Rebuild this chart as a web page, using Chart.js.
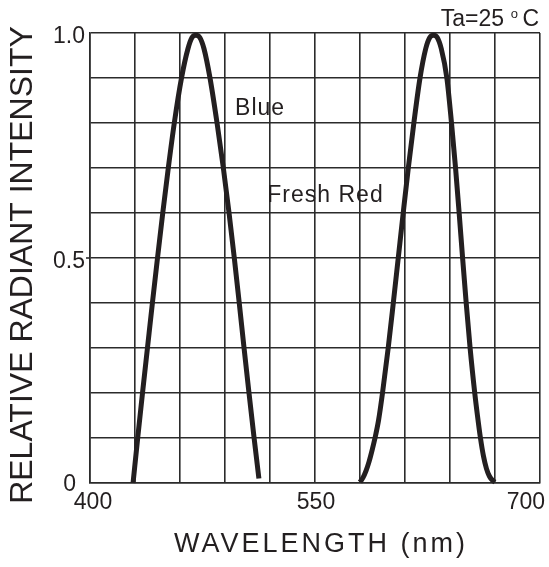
<!DOCTYPE html>
<html><head><meta charset="utf-8">
<script src="https://cdn.jsdelivr.net/npm/chart.js@4.4.1/dist/chart.umd.min.js"></script>
<style>html,body{margin:0;padding:0;background:#fff}#wrap{width:549px;height:567px;position:relative}</style>
</head><body><div id="wrap"><canvas id="c"></canvas></div>
<script>
// Blue emitter spectrum (wavelength nm, relative intensity)
const blueWavelength = [428.7, 431.8, 435.0, 438.3, 441.6, 445.0, 448.5, 452.2, 456.2, 461.0, 465.3, 468.0, 470.6, 473.2, 476.0, 480.0, 484.7, 488.9, 492.7, 496.2, 499.5, 502.7, 506.0, 509.4, 512.6];
const blueIntensity  = [0.0,   0.1,   0.2,   0.3,   0.4,   0.5,   0.6,   0.7,   0.8,   0.9,   0.965, 0.99,  0.995, 0.99,  0.965, 0.9,   0.8,   0.7,   0.6,   0.5,   0.4,   0.3,   0.2,   0.1,   0.01];
// Fresh Red emitter spectrum
const redWavelength = [580.0, 582.0, 584.0, 586.0, 588.0, 590.0, 592.4, 595.0, 598.8, 602.2, 605.5, 608.8, 612.2, 615.9, 620.0, 623.8, 626.5, 629.0, 631.5, 634.2, 637.9, 641.0, 643.7, 646.1, 648.4, 650.8, 653.4, 656.5, 658.3, 660.3, 662.3, 664.3, 666.3, 668.3, 670.0];
const redIntensity  = [0.002, 0.012, 0.027, 0.047, 0.072, 0.1,   0.14,  0.2,   0.3,   0.4,   0.5,   0.6,   0.7,   0.8,   0.9,   0.965, 0.99,  0.995, 0.99,  0.965, 0.9,   0.8,   0.7,   0.6,   0.5,   0.4,   0.3,   0.2,   0.15,  0.1,   0.06,  0.032, 0.015, 0.006, 0.002];
// Tick labels shown on the axes
const xTickLabels = ['400', '550', '700'];
const yTickLabels = ['0', '0.5', '1.0'];
const xTitle = 'WAVELENGTH (nm)';
const yTitle = 'RELATIVE RADIANT INTENSITY';
const seriesNames = ['Blue', 'Fresh Red'];
const conditionText = ['Ta=25', 'o', 'C'];

const INK = '#231f20';
const FONT = '"Liberation Sans", Arial, sans-serif';

function toPoints(xs, ys) { return xs.map((x, i) => ({ x: x, y: ys[i] })); }

const textPlugin = {
  id: 'texts',
  afterDraw(chart) {
    const ctx = chart.ctx;
    const xs = chart.scales.x, ys = chart.scales.y;
    const ca = chart.chartArea;
    ctx.save();
    ctx.fillStyle = INK;
    ctx.textBaseline = 'alphabetic';
    ctx.font = '23px ' + FONT;
    // y tick labels
    yTickLabels.forEach(t => {
      const v = parseFloat(t);
      const py = ys.getPixelForValue(v);
      ctx.textAlign = 'right';
      if (v === 0) ctx.fillText(t, ca.left - 14, py + 8);
      else ctx.fillText(t, ca.left - 5, py + 9.5);
    });
    // x tick labels
    xTickLabels.forEach((t, i) => {
      const v = parseFloat(t);
      const px = xs.getPixelForValue(v);
      const by = ca.bottom + 26;
      if (i === xTickLabels.length - 1) { ctx.textAlign = 'right'; ctx.fillText(t, px + 5, by); }
      else { ctx.textAlign = 'center'; ctx.fillText(t, px + (i === 0 ? 3 : 1), by); }
    });
    // series annotations
    ctx.textAlign = 'left';
    ctx.letterSpacing = '1px';
    ctx.fillText(seriesNames[0], xs.getPixelForValue(496.7), ys.getPixelForValue(0.818));
    ctx.fillText(seriesNames[1], xs.getPixelForValue(518.2), ys.getPixelForValue(0.625));
    ctx.letterSpacing = '0px';
    // condition text, top right
    ctx.textAlign = 'right';
    ctx.fillText(conditionText[2], ca.right - 1, 26);
    ctx.font = '13px ' + FONT;
    ctx.fillText(conditionText[1], ca.right - 22, 18);
    ctx.font = '23px ' + FONT;
    ctx.fillText(conditionText[0], ca.right - 36, 26);
    // x title
    ctx.textAlign = 'center';
    ctx.font = '27px ' + FONT;
    ctx.letterSpacing = '3px';
    ctx.fillText(xTitle, (ca.left + ca.right) / 2 + 6, 552);
    ctx.letterSpacing = '0px';
    // small outer tick at 0.5 on the y axis
    ctx.strokeStyle = '#2b2b2b';
    ctx.lineWidth = 1.6;
    ctx.beginPath();
    const p5 = ys.getPixelForValue(0.5);
    ctx.moveTo(ca.left - 4, p5);
    ctx.lineTo(ca.left, p5);
    ctx.stroke();
    // y title
    ctx.translate(32, 265);
    ctx.rotate(-Math.PI / 2);
    ctx.font = '32px ' + FONT;
    ctx.fillText(yTitle, 0, 0);
    ctx.restore();
  }
};

const gridCommon = { color: '#2b2b2b', lineWidth: 1.6, drawTicks: false };

new Chart(document.getElementById('c'), {
  type: 'scatter',
  data: {
    datasets: [
      { label: seriesNames[0], data: toPoints(blueWavelength, blueIntensity) },
      { label: seriesNames[1], data: toPoints(redWavelength, redIntensity) }
    ].map(d => Object.assign(d, {
      showLine: true, borderColor: INK, borderWidth: 5, pointRadius: 0,
      cubicInterpolationMode: 'monotone', fill: false, clip: false,
      borderCapStyle: 'butt', borderJoinStyle: 'round'
    }))
  },
  options: {
    responsive: true, maintainAspectRatio: false, animation: false,
    layout: { padding: { left: 0, top: 33, right: 9, bottom: 0 } },
    plugins: { legend: { display: false }, tooltip: { enabled: false } },
    scales: {
      x: {
        type: 'linear', min: 400, max: 700,
        ticks: { display: false, stepSize: 30 },
        grid: gridCommon,
        border: { display: true, color: '#2b2b2b', width: 1.6 },
        afterFit(s) { s.height = 84; }
      },
      y: {
        type: 'linear', min: 0, max: 1,
        ticks: { display: false, stepSize: 0.1 },
        grid: gridCommon,
        border: { display: true, color: '#2b2b2b', width: 1.6 },
        afterFit(s) { s.width = 90; }
      }
    }
  },
  plugins: [textPlugin]
});
</script>
</body></html>
